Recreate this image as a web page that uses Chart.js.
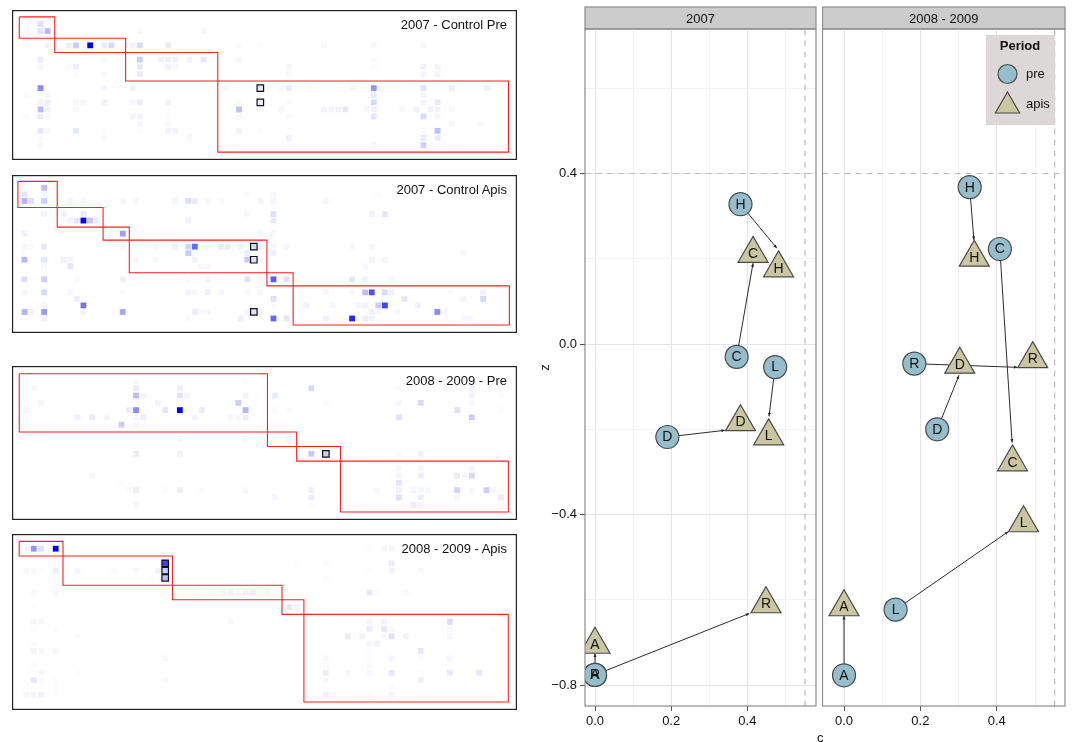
<!DOCTYPE html>
<html>
<head>
<meta charset="utf-8">
<script src="https://cdn.jsdelivr.net/npm/chart.js@4"></script>
<style>
  html, body { margin: 0; background: #fff; overflow: hidden; width: 1073px; height: 742px; }
  body { position: relative; font-family: "Liberation Sans", Arial, sans-serif; color: #111; }
  canvas { position: absolute; }
  canvas.heat { filter: blur(0.4px); }
  .panel-title { position: absolute; font-size: 13px; line-height: 14px; white-space: pre; text-align: right; }
  .axis-title { position: absolute; font-size: 13px; line-height: 14px; }
</style>
</head>
<body>
<script>
// heatmap cells: [column, row, intensity]
const cellsPre2007 = [
  [2,0,.12],[0,1,.015],[2,1,.12],[3,1,.28],[16,1,.03],[25,1,.03],
  [0,3,.02],[3,3,.05],[6,3,.06],[7,3,.2],[9,3,1],[11,3,.08],[12,3,.15],[14,3,.03],[15,3,.05],[16,3,.15],[20,3,.08],[30,3,.02],[33,3,.02],[42,3,.03],[49,3,.03],[56,3,.03],
  [2,5,.08],[11,5,.03],[16,5,.2],[19,5,.05],[20,5,.06],[21,5,.06],[23,5,.06],[25,5,.1],[30,5,.03],[49,5,.02],
  [2,6,.04],[6,6,.02],[7,6,.07],[16,6,.1],[20,6,.06],[21,6,.03],[37,6,.03],[49,6,.02],[56,6,.05],[58,6,.05],
  [7,7,.02],[11,7,.02],[16,7,.08],[37,7,.03],[56,7,.04],[58,7,.04],
  [2,9,.45],[11,9,.04],[15,9,.05],[28,9,.03],[36,9,.03],[37,9,.08],[40,9,.02],[46,9,.03],[49,9,.42],[50,9,.04],[56,9,.12],[60,9,.07],[65,9,.06],
  [0,10,.02],[3,10,.03],[49,10,.08],[56,10,.04],
  [2,11,.04],[3,11,.07],[7,11,.03],[8,11,.03],[11,11,.06],[15,11,.03],[16,11,.07],[20,11,.05],[30,11,.02],[37,11,.02],[49,11,.15],[56,11,.04],[58,11,.08],
  [2,12,.28],[3,12,.06],[7,12,.03],[30,12,.25],[36,12,.03],[42,12,.05],[43,12,.05],[44,12,.05],[45,12,.1],[48,12,.03],[49,12,.06],[53,12,.03],[55,12,.06],[57,12,.05],[58,12,.05],[60,12,.03],
  [0,13,.02],[2,13,.08],[3,13,.03],[15,13,.04],[16,13,.05],[20,13,.02],[30,13,.03],[37,13,.02],[49,13,.1],[56,13,.15],[58,13,.03],
  [16,14,.03],[20,14,.03],[60,14,.04],[64,14,.03],
  [2,15,.1],[3,15,.03],[7,15,.1],[11,15,.02],[16,15,.02],[20,15,.05],[21,15,.05],[30,15,.05],[33,15,.015],[56,15,.02],[58,15,.25],
  [2,16,.02],[11,16,.02],[23,16,.03],[37,16,.06],[56,16,.08],[58,16,.08],
  [2,17,.03],[49,17,.03],[56,17,.18]
];
const markedPre2007 = [[33,9,.1],[33,11,.08]];
const xStepsPre2007 = [-1,4,14,27,68];
const yStepsPre2007 = [-1,2,4,8,18];

const cellsApis2007 = [
  [3,0,.25],[0,1,.1],[3,1,.04],[34,1,.02],[38,1,.03],[54,1,.02],
  [0,2,.3],[1,2,.12],[3,2,.2],[7,2,.04],[9,2,.03],[15,2,.04],[17,2,.03],[23,2,.04],[25,2,.14],[26,2,.08],[28,2,.03],[30,2,.02],[36,2,.04],[38,2,.04],[46,2,.04],
  [3,4,.04],[6,4,.05],[9,4,.08],[34,4,.03],[38,4,.12],[53,4,.05],[55,4,.1],
  [7,5,.04],[8,5,.1],[9,5,1],[10,5,.22],[11,5,.07],[25,5,.06],[38,5,.08],
  [0,7,.06],[15,7,.38],[36,7,.03],[38,7,.03],
  [0,9,.03],[1,9,.02],[3,9,.1],[15,9,.04],[20,9,.03],[23,9,.06],[25,9,.18],[26,9,.6],[28,9,.03],[30,9,.07],[31,9,.08],[33,9,.05],[36,9,.05],[38,9,.04],[40,9,.03],[50,9,.03],[53,9,.03],
  [0,10,.02],[25,10,.2],[34,10,.08],[38,10,.06],[67,10,.03],
  [0,11,.28],[3,11,.1],[6,11,.06],[7,11,.04],[17,11,.04],[20,11,.03],[26,11,.05],[34,11,.22],[36,11,.03],[53,11,.04],[55,11,.04],
  [3,12,.03],[7,12,.1],[27,12,.03],[28,12,.03],[52,12,.03],
  [0,14,.14],[3,14,.2],[8,14,.03],[15,14,.05],[25,14,.02],[28,14,.04],[34,14,.12],[36,14,.03],[38,14,.65],[40,14,.12],[50,14,.1],[52,14,.05],[56,14,.03],
  [0,16,.04],[3,16,.14],[7,16,.03],[15,16,.02],[25,16,.05],[26,16,.03],[28,16,.06],[30,16,.03],[34,16,.03],[36,16,.04],[46,16,.03],[50,16,.03],[52,16,.25],[53,16,.7],[55,16,.14],[56,16,.06],[65,16,.02],[70,16,.06],
  [8,17,.07],[38,17,.12],[58,17,.1],[67,17,.04],[70,17,.15],
  [3,18,.03],[9,18,.55],[38,18,.02],[43,18,.05],[47,18,.03],[51,18,.04],[52,18,.05],[54,18,.2],[55,18,.75],[60,18,.06],
  [0,19,.3],[1,19,.05],[3,19,.4],[9,19,.04],[15,19,.35],[26,19,.07],[27,19,.03],[28,19,.03],[34,19,.04],[36,19,.06],[53,19,.06],[54,19,.03],[57,19,.03],[63,19,.45],[64,19,.03],
  [0,20,.02],[3,20,.06],[25,20,.02],[33,20,.06],[38,20,.6],[40,20,.1],[46,20,.06],[50,20,.85],[52,20,.07],[53,20,.05],[67,20,.03],[68,20,.03]
];
const markedApis2007 = [[35,9,.15],[35,11,.12],[35,19,.12]];
const xStepsApis2007 = [-1,5,12,16,37,41,74];
const yStepsApis2007 = [-1,3,6,8,13,15,21];

const cellsPre2008 = [
  [15,0,.02],[30,0,.02],
  [1,1,.03],[15,1,.08],[21,1,.07],[39,1,.15],[51,1,.02],[61,1,.05],
  [15,2,.25],[16,2,.04],[21,2,.12],[22,2,.04],[30,2,.05],[34,2,.08],[61,2,.05],[65,2,.02],
  [2,3,.04],[18,3,.05],[29,3,.2],[41,3,.02],[51,3,.03],[54,3,.14],[61,3,.03],
  [0,4,.04],[14,4,.07],[15,4,.45],[19,4,.1],[21,4,1],[24,4,.08],[30,4,.3],[34,4,.02],[36,4,.02],[59,4,.13],[65,4,.02],
  [7,5,.06],[9,5,.08],[11,5,.04],[15,5,.03],[16,5,.07],[23,5,.05],[28,5,.03],[29,5,.03],[30,5,.07],[51,5,.12],[61,5,.2],
  [13,6,.2],[15,6,.03],
  [21,8,.03],[30,8,.03],[34,8,.02],[36,8,.04],
  [15,10,.08],[21,10,.05],[39,10,.22],[51,10,.02],[54,10,.06],
  [51,12,.03],[54,12,.04],[61,12,.04],
  [9,13,.03],[51,13,.04],[54,13,.07],[59,13,.08],[60,13,.04],[61,13,.15],
  [13,14,.01],[51,14,.1],
  [14,15,.02],[15,15,.07],[19,15,.02],[21,15,.07],[24,15,.02],[30,15,.03],[39,15,.06],[48,15,.03],[51,15,.05],[53,15,.04],[54,15,.04],[55,15,.03],[59,15,.18],[61,15,.03],[63,15,.2],[64,15,.03],
  [34,16,.03],[39,16,.07],[51,16,.12],[54,16,.07],[59,16,.03],[65,16,.08],
  [15,17,.03],[39,17,.02],[53,17,.07],[54,17,.04]
];
const markedPre2008 = [[41,10,.2]];
const xStepsPre2008 = [-1,33,37,43,66];
const yStepsPre2008 = [-1,7,9,11,18];

const cellsApis2008 = [
  [0,0,.03],[1,0,.42],[2,0,.12],[4,0,1],[47,0,.01],[49,0,.04],[50,0,.04],
  [37,2,.01],[41,2,.02],[50,2,.08],
  [0,3,.04],[1,3,.03],[2,3,.01],[4,3,.07],[7,3,.04],[12,3,.02],[15,3,.02],[18,3,.06],[47,3,.01],[50,3,.05],[54,3,.03],
  [17,4,.01],[41,4,.02],
  [1,6,.03],[4,6,.03],[23,6,.02],[27,6,.04],[28,6,.05],[29,6,.03],[30,6,.06],[31,6,.07],[33,6,.04],[47,6,.1],[48,6,.02],[52,6,.03],
  [1,8,.01],[36,8,.1],[37,8,.04],
  [1,10,.04],[2,10,.03],[28,10,.03],[47,10,.04],[49,10,.05],[58,10,.13],
  [1,11,.02],[4,11,.01],[47,11,.07],[49,11,.1],[50,11,.02],[58,11,.03],[64,11,.02],
  [7,12,.01],[44,12,.08],[46,12,.05],[49,12,.03],[50,12,.12],[52,12,.05],[58,12,.04],
  [1,13,.02],[47,13,.04],[48,13,.05],
  [1,14,.05],[2,14,.03],[4,14,.04],[47,14,.01],[54,14,.1],
  [19,15,.03],[41,15,.03],[47,15,.01],[50,15,.04],[54,15,.02],[58,15,.04],
  [1,16,.02],[41,16,.02],[47,16,.02],
  [1,17,.01],[2,17,.03],[7,17,.01],[41,17,.07],[44,17,.03],[47,17,.03],[50,17,.1],[54,17,.01],[58,17,.08],[62,17,.1],
  [1,18,.1],[2,18,.02],[4,18,.02],[19,18,.02],[41,18,.04],[54,18,.07],
  [4,19,.01],[50,19,.02],
  [0,20,.04],[1,20,.04],[2,20,.06],[4,20,.02],[41,20,.06],[42,20,.02],[47,20,.02],[50,20,.04]
];
const markedApis2008 = [[19,2,.75],[19,3,.2],[19,4,.25]];
const xStepsApis2008 = [-1,5,20,35,38,66];
const yStepsApis2008 = [-1,1,5,7,9,21];

// scatter panels, same order of letters in every list
const letters2007 = ['H','C','L','D','R','A'];
const cPre2007 = [.382,.372,.473,.190,0,0];
const zPre2007 = [.328,-.030,-.054,-.218,-.776,-.776];
const cApis2007 = [.482,.415,.456,.382,.449,0];
const zApis2007 = [.178,.212,-.216,-.183,-.610,-.705];
// where each arrow tip sits
const cTip2007 = [.4775,.415,.457,.341,.405,0];
const zTip2007 = [.2248,.1897,-.1695,-.2023,-.632,-.726];

const letters2008 = ['H','C','R','D','L','A'];
const cPre2008 = [.329,.408,.184,.244,.135,0];
const zPre2008 = [.368,.223,-.046,-.200,-.623,-.777];
const cApis2008 = [.341,.441,.494,.303,.470,0];
const zApis2008 = [.203,-.277,-.035,-.048,-.420,-.617];
const cTip2008 = [.340,.440,.454,.301,.430,0];
const zTip2008 = [.2443,-.231,-.0546,-.0734,-.44,-.638];

const sansFont = '"Liberation Sans", Arial, sans-serif';
const triangleRadius = 17.3;
const circleRadius = 11.5;
const preColor = '#96bdcc';
const apisColor = '#cbc6a2';
const markerEdge = '#4a4a4a';

function makeCanvas(left, top, width, height, cls) {
  const canvas = document.createElement('canvas');
  canvas.width = width;
  canvas.height = height;
  if (cls) canvas.className = cls;
  canvas.style.left = left + 'px';
  canvas.style.top = top + 'px';
  canvas.style.width = width + 'px';
  canvas.style.height = height + 'px';
  document.body.appendChild(canvas);
  return canvas.getContext('2d');
}

function cellColor(value) {
  const c = Math.round(255 * (1 - value));
  return `rgb(${c},${c},255)`;
}

function toCellPoints(cells) {
  return cells.map(cell => ({ x: cell[0], y: cell[1], v: cell[2] }));
}

// Red outline for one block of the modular matrix
function blockDataset(x0, x1, y0, y1) {
  return {
    type: 'line',
    data: [{ x: x0, y: y0 }, { x: x1, y: y0 }, { x: x1, y: y1 }, { x: x0, y: y1 }, { x: x0, y: y0 }],
    borderColor: '#ff2020',
    borderWidth: 1.1,
    pointRadius: 0,
    tension: 0,
    order: 0
  };
}

const heatFrame = {
  id: 'heatFrame',
  afterDraw(chart) {
    const ctx = chart.ctx;
    ctx.save();
    ctx.strokeStyle = '#222';
    ctx.lineWidth = 1.2;
    ctx.strokeRect(0.6, 0.6, chart.width - 1.2, chart.height - 1.2);
    ctx.restore();
  }
};

function drawHeatPanel(panel) {
  const width = panel.right - panel.left;
  const height = panel.bottom - panel.top;
  const ctx = makeCanvas(panel.left, panel.top, width, height, 'heat');
  const datasets = [];
  for (let i = 0; i < panel.xSteps.length - 1; i++) {
    datasets.push(blockDataset(panel.xSteps[i], panel.xSteps[i + 1], panel.ySteps[i], panel.ySteps[i + 1]));
  }
  datasets.push({
    data: toCellPoints(panel.cells),
    pointStyle: 'rect',
    pointRadius: 4.1,
    pointBorderWidth: 0,
    pointBackgroundColor: c => cellColor(c.raw.v),
    order: 2
  });
  datasets.push({
    data: toCellPoints(panel.marked),
    pointStyle: 'rect',
    pointRadius: 4.6,
    pointBorderWidth: 1.2,
    pointBorderColor: '#111',
    pointBackgroundColor: c => cellColor(c.raw.v),
    order: 1
  });
  new Chart(ctx, {
    type: 'scatter',
    data: { datasets },
    options: {
      responsive: false,
      animation: false,
      events: [],
      layout: { padding: 0, autoPadding: false },
      plugins: { legend: { display: false }, tooltip: { enabled: false } },
      scales: {
        x: {
          display: false,
          min: (panel.left - panel.col0) / panel.colStep,
          max: (panel.right - panel.col0) / panel.colStep
        },
        y: {
          display: false,
          reverse: true,
          min: (panel.top - panel.row0) / panel.rowStep,
          max: (panel.bottom - panel.row0) / panel.rowStep
        }
      }
    },
    plugins: [heatFrame]
  });
  const title = document.createElement('div');
  title.className = 'panel-title';
  title.textContent = panel.title;
  title.style.right = (1073 - 507) + 'px';
  title.style.top = (panel.titleY - 7) + 'px';
  document.body.appendChild(title);
}

// Letters on the markers, arrow heads, facet strip and frame
const facetDecor = {
  id: 'facetDecor',
  beforeDraw(chart, args, opts) {
    const ctx = chart.ctx;
    const area = chart.chartArea;
    ctx.save();
    ctx.fillStyle = '#cccccc';
    ctx.strokeStyle = '#8c8c8c';
    ctx.lineWidth = 1.2;
    ctx.fillRect(area.left, 7, area.right - area.left, area.top - 7);
    ctx.strokeRect(area.left, 7, area.right - area.left, area.top - 7);
    ctx.fillStyle = '#111';
    ctx.font = `13px ${sansFont}`;
    ctx.textAlign = 'center';
    ctx.textBaseline = 'middle';
    ctx.fillText(opts.strip, (area.left + area.right) / 2, 19);
    ctx.restore();
  },
  afterDatasetsDraw(chart, args, opts) {
    const ctx = chart.ctx;
    const xScale = chart.scales.x;
    const yScale = chart.scales.y;
    ctx.save();
    opts.letters.forEach((letter, i) => {
      const fromX = xScale.getPixelForValue(opts.cPre[i]);
      const fromY = yScale.getPixelForValue(opts.zPre[i]);
      const tipX = xScale.getPixelForValue(opts.cTip[i]);
      const tipY = yScale.getPixelForValue(opts.zTip[i]);
      const len = Math.hypot(fromX - tipX, fromY - tipY);
      const ux = (fromX - tipX) / len;
      const uy = (fromY - tipY) / len;
      ctx.fillStyle = '#222';
      ctx.beginPath();
      ctx.moveTo(tipX, tipY);
      ctx.lineTo(tipX + ux * 3.5 - uy * 1.5, tipY + uy * 3.5 + ux * 1.5);
      ctx.lineTo(tipX + ux * 3.5 + uy * 1.5, tipY + uy * 3.5 - ux * 1.5);
      ctx.closePath();
      ctx.fill();
      ctx.fillStyle = '#111';
      ctx.font = `14px ${sansFont}`;
      ctx.textAlign = 'center';
      ctx.textBaseline = 'middle';
      ctx.fillText(letter, fromX, fromY + 0.5);
      ctx.fillText(letter, xScale.getPixelForValue(opts.cApis[i]), yScale.getPixelForValue(opts.zApis[i]) + 0.5);
    });
    ctx.restore();
  },
  afterDraw(chart) {
    const ctx = chart.ctx;
    const area = chart.chartArea;
    ctx.save();
    ctx.strokeStyle = '#8c8c8c';
    ctx.lineWidth = 1.2;
    ctx.strokeRect(area.left, area.top, area.right - area.left, area.bottom - area.top);
    ctx.restore();
  }
};

const periodLegend = {
  id: 'periodLegend',
  afterDraw(chart) {
    const ctx = chart.ctx;
    const dx = -chart.canvas.offsetLeft;
    ctx.save();
    ctx.fillStyle = 'rgba(218,214,214,0.95)';
    ctx.fillRect(986 + dx, 35, 69, 90);
    ctx.fillStyle = '#111';
    ctx.textBaseline = 'middle';
    ctx.textAlign = 'center';
    ctx.font = `bold 13px ${sansFont}`;
    ctx.fillText('Period', 1020 + dx, 46);
    ctx.textAlign = 'left';
    ctx.font = `13px ${sansFont}`;
    ctx.fillText('pre', 1026 + dx, 74.5);
    ctx.fillText('apis', 1026 + dx, 104.5);
    ctx.lineWidth = 1.2;
    ctx.strokeStyle = markerEdge;
    ctx.fillStyle = preColor;
    Chart.helpers.drawPoint(ctx, { pointStyle: 'circle', radius: 9.5, borderWidth: 1.2 }, 1007.5 + dx, 74);
    ctx.fillStyle = apisColor;
    Chart.helpers.drawPoint(ctx, { pointStyle: 'triangle', radius: 14, borderWidth: 1.2 }, 1007.5 + dx, 106);
    ctx.restore();
  }
};

function guideDataset(points) {
  return {
    type: 'line',
    data: points,
    borderColor: '#bdbdbd',
    borderWidth: 1.2,
    borderDash: [6, 5],
    pointRadius: 0,
    order: 9
  };
}

function drawFacet(facet) {
  const ctx = makeCanvas(facet.left, 0, facet.width, 742);
  const datasets = [
    guideDataset([{ x: facet.cMin, y: 0.4 }, { x: facet.cMax, y: 0.4 }]),
    guideDataset([{ x: 0.5515, y: -0.85 }, { x: 0.5515, y: 0.74 }])
  ];
  facet.letters.forEach((letter, i) => {
    datasets.push({
      type: 'line',
      data: [{ x: facet.cPre[i], y: facet.zPre[i] }, { x: facet.cTip[i], y: facet.zTip[i] }],
      borderColor: '#2b2b2b',
      borderWidth: 1,
      pointRadius: 0,
      order: 5
    });
  });
  datasets.push({
    label: 'pre',
    data: facet.cPre.map((c, i) => ({ x: c, y: facet.zPre[i] })),
    pointStyle: 'circle',
    pointRadius: circleRadius,
    pointBackgroundColor: preColor,
    pointBorderColor: markerEdge,
    pointBorderWidth: 1.2,
    order: 1
  });
  datasets.push({
    label: 'apis',
    data: facet.cApis.map((c, i) => ({ x: c, y: facet.zApis[i] })),
    pointStyle: 'triangle',
    pointRadius: triangleRadius,
    pointBackgroundColor: apisColor,
    pointBorderColor: markerEdge,
    pointBorderWidth: 1.2,
    order: 2
  });
  const tickFont = { family: sansFont, size: 13 };
  new Chart(ctx, {
    type: 'scatter',
    data: { datasets },
    options: {
      responsive: false,
      animation: false,
      events: [],
      layout: { autoPadding: false, padding: { top: 29, right: 1, left: facet.showY ? 0 : 0.5, bottom: 0 } },
      plugins: {
        legend: { display: false },
        tooltip: { enabled: false },
        facetDecor: {
          strip: facet.strip,
          letters: facet.letters,
          cPre: facet.cPre,
          zPre: facet.zPre,
          cApis: facet.cApis,
          zApis: facet.zApis,
          cTip: facet.cTip,
          zTip: facet.zTip
        }
      },
      scales: {
        x: {
          min: facet.cMin,
          max: facet.cMax,
          afterFit(scale) { scale.height = 36; },
          border: { display: false },
          grid: {
            tickLength: 5,
            color: c => Math.round(c.tick.value * 10) % 2 === 0 ? '#e4e4e4' : '#f3f3f3',
            tickColor: c => Math.round(c.tick.value * 10) % 2 === 0 ? '#555' : 'transparent'
          },
          ticks: {
            stepSize: 0.1,
            includeBounds: false,
            autoSkip: false,
            maxRotation: 0,
            padding: 3,
            color: '#111',
            font: tickFont,
            callback: v => Math.round(v * 10) % 2 === 0 ? v.toFixed(1) : ''
          }
        },
        y: {
          display: facet.showY,
          min: -0.849,
          max: 0.739,
          afterFit(scale) { scale.width = facet.showY ? 45 : 0; },
          border: { display: false },
          title: { display: true, text: 'z', color: '#111', padding: { top: -2.5, bottom: 0 }, font: { family: sansFont, size: 13 } },
          grid: {
            tickLength: 5,
            color: c => Math.round(c.tick.value * 5) % 2 === 0 ? '#e4e4e4' : '#f3f3f3',
            tickColor: c => Math.round(c.tick.value * 5) % 2 === 0 ? '#555' : 'transparent'
          },
          ticks: {
            stepSize: 0.2,
            includeBounds: false,
            autoSkip: false,
            padding: 3,
            color: '#111',
            font: tickFont,
            callback: v => {
              if (Math.round(v * 5) % 2 !== 0) return '';
              return v < -0.001 ? '\u2212' + Math.abs(v).toFixed(1) : Math.abs(v).toFixed(1);
            }
          }
        }
      }
    },
    plugins: facet.legend ? [facetDecor, periodLegend] : [facetDecor]
  });
}

drawHeatPanel({
  title: '2007 - Control Pre', titleY: 25,
  left: 12, right: 517, top: 10, bottom: 160,
  col0: 26.35, colStep: 7.09, row0: 24, rowStep: 7.12,
  cells: cellsPre2007, marked: markedPre2007, xSteps: xStepsPre2007, ySteps: yStepsPre2007
});
drawHeatPanel({
  title: '2007 - Control Apis', titleY: 190,
  left: 12, right: 517, top: 175, bottom: 333,
  col0: 24.46, colStep: 6.553, row0: 187.9, rowStep: 6.53,
  cells: cellsApis2007, marked: markedApis2007, xSteps: xStepsApis2007, ySteps: yStepsApis2007
});
drawHeatPanel({
  title: '2008 - 2009 - Pre', titleY: 381,
  left: 12, right: 517, top: 366, bottom: 520,
  col0: 26.55, colStep: 7.3, row0: 381, rowStep: 7.28,
  cells: cellsPre2008, marked: markedPre2008, xSteps: xStepsPre2008, ySteps: yStepsPre2008
});
drawHeatPanel({
  title: '2008 - 2009 - Apis', titleY: 549,
  left: 12, right: 517, top: 534, bottom: 710,
  col0: 26.5, colStep: 7.3, row0: 548.7, rowStep: 7.3,
  cells: cellsApis2008, marked: markedApis2008, xSteps: xStepsApis2008, ySteps: yStepsApis2008
});

drawFacet({
  strip: '2007', left: 540, width: 277, showY: true, legend: false,
  cMin: -0.0263, cMax: 0.5803,
  letters: letters2007, cPre: cPre2007, zPre: zPre2007, cApis: cApis2007, zApis: zApis2007, cTip: cTip2007, zTip: zTip2007
});
drawFacet({
  strip: '2008 - 2009', left: 822, width: 244, showY: false, legend: true,
  cMin: -0.0563, cMax: 0.5785,
  letters: letters2008, cPre: cPre2008, zPre: zPre2008, cApis: cApis2008, zApis: zApis2008, cTip: cTip2008, zTip: zTip2008
});

const cTitle = document.createElement('div');
cTitle.className = 'axis-title';
cTitle.textContent = 'c';
cTitle.style.left = '817px';
cTitle.style.top = '731px';
document.body.appendChild(cTitle);
</script>
</body>
</html>
